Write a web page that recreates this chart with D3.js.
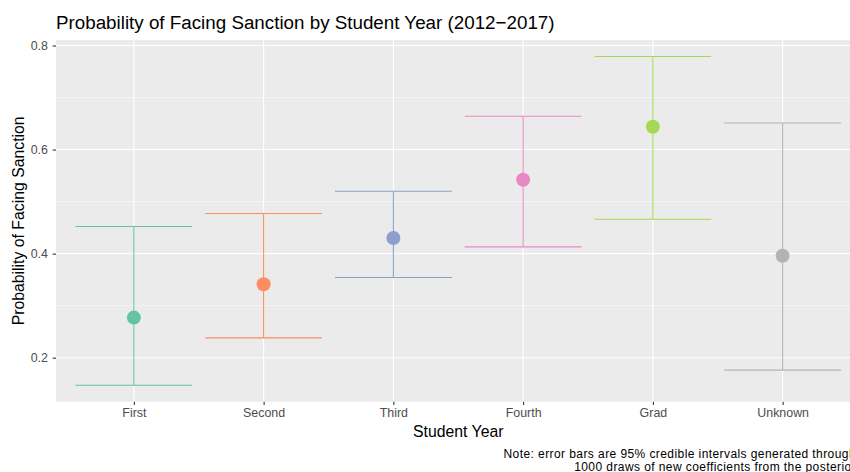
<!DOCTYPE html>
<html>
<head>
<meta charset="utf-8">
<script src="https://cdn.jsdelivr.net/npm/d3@7"></script>
<style>
  html, body { margin: 0; padding: 0; background: #fff; overflow: hidden; }
  svg { display: block; font-family: "Liberation Sans", Arial, sans-serif; }
</style>
</head>
<body>
<svg id="chart" width="850" height="472"></svg>
<script>
// Posterior estimates of sanction probability by student year
const categories = ["First", "Second", "Third", "Fourth", "Grad", "Unknown"];
const estimates  = [0.277, 0.341, 0.430, 0.542, 0.644, 0.396];
const lowerCI    = [0.147, 0.238, 0.354, 0.413, 0.466, 0.176];
const upperCI    = [0.452, 0.477, 0.520, 0.664, 0.779, 0.651];
const colors     = ["#66C2A5", "#FC8D62", "#8DA0CB", "#E78AC3", "#A6D854", "#B3B3B3"];
const yTicks     = [0.2, 0.4, 0.6, 0.8];
const yMinor     = [0.3, 0.5, 0.7];

const titleText   = "Probability of Facing Sanction by Student Year (2012\u22122017)";
const xTitle      = "Student Year";
const yTitle      = "Probability of Facing Sanction";
const captionLines = [
  "Note: error bars are 95% credible intervals generated through",
  "1000 draws of new coefficients from the posterior"
];

const data = categories.map((c, i) => ({
  cat: c, est: estimates[i], lo: lowerCI[i], hi: upperCI[i], color: colors[i]
}));

const svg = d3.select("#chart");
const panel = { left: 56, right: 860.5, top: 40, bottom: 401.7 };

const fontSizes = { title: 18.8, axisTitle: 15.8, tick: 12.4, caption: 12 };

// Continuous y scale with 5% expansion on each side of the data range
const yMin = d3.min(lowerCI), yMax = d3.max(upperCI);
const pad = (yMax - yMin) * 0.05;
const y = d3.scaleLinear().domain([yMin - pad, yMax + pad]).range([panel.bottom, panel.top]);

// Discrete x scale, 0.6 step expansion on each end
const x = d3.scalePoint().domain(categories).range([panel.left, panel.right]).padding(0.6);
const step = x.step();

// Panel background
svg.append("rect")
  .attr("x", panel.left).attr("y", panel.top)
  .attr("width", panel.right - panel.left).attr("height", panel.bottom - panel.top)
  .attr("fill", "#EBEBEB");

// Grid lines
const grid = svg.append("g");
grid.selectAll("line.minor").data(yMinor).join("line")
  .attr("x1", panel.left).attr("x2", panel.right)
  .attr("y1", d => y(d)).attr("y2", d => y(d))
  .attr("stroke", "#fff").attr("stroke-width", 0.55);
grid.selectAll("line.majory").data(yTicks).join("line")
  .attr("x1", panel.left).attr("x2", panel.right)
  .attr("y1", d => y(d)).attr("y2", d => y(d))
  .attr("stroke", "#fff").attr("stroke-width", 1.1);
grid.selectAll("line.majorx").data(categories).join("line")
  .attr("x1", d => x(d)).attr("x2", d => x(d))
  .attr("y1", panel.top).attr("y2", panel.bottom)
  .attr("stroke", "#fff").attr("stroke-width", 1.1);

// Axes
const yAxis = svg.append("g")
  .attr("transform", `translate(${panel.left},0)`)
  .call(d3.axisLeft(y).tickValues(yTicks).tickFormat(d3.format(".1f")).tickSize(3.3).tickPadding(4.8));
const xAxis = svg.append("g")
  .attr("transform", `translate(0,${panel.bottom})`)
  .call(d3.axisBottom(x).tickSize(3.3).tickPadding(3.4));
[yAxis, xAxis].forEach(g => {
  g.select(".domain").remove();
  g.selectAll(".tick line").attr("stroke", "#333").attr("stroke-width", 1.1);
  g.selectAll(".tick text").attr("fill", "#4D4D4D").style("font-size", fontSizes.tick + "px")
    .style("font-family", "'Liberation Sans', Arial, sans-serif");
});

// Error bars
const bars = svg.append("g");
bars.selectAll("line.stem").data(data).join("line")
  .attr("x1", d => x(d.cat)).attr("x2", d => x(d.cat))
  .attr("y1", d => y(d.lo)).attr("y2", d => y(d.hi))
  .attr("stroke", d => d.color).attr("stroke-width", 1.1);
bars.selectAll("line.capHi").data(data).join("line")
  .attr("x1", d => x(d.cat) - step * 0.45).attr("x2", d => x(d.cat) + step * 0.45)
  .attr("y1", d => y(d.hi)).attr("y2", d => y(d.hi))
  .attr("stroke", d => d.color).attr("stroke-width", 1.1);
bars.selectAll("line.capLo").data(data).join("line")
  .attr("x1", d => x(d.cat) - step * 0.45).attr("x2", d => x(d.cat) + step * 0.45)
  .attr("y1", d => y(d.lo)).attr("y2", d => y(d.lo))
  .attr("stroke", d => d.color).attr("stroke-width", 1.1);

// Point estimates
svg.append("g").selectAll("circle").data(data).join("circle")
  .attr("cx", d => x(d.cat)).attr("cy", d => y(d.est))
  .attr("r", 7).attr("fill", d => d.color);

// Titles
svg.append("text").attr("x", 56).attr("y", 29)
  .attr("fill", "#000").style("font-size", fontSizes.title + "px").text(titleText);
svg.append("text").attr("x", (panel.left + panel.right) / 2).attr("y", 437)
  .attr("text-anchor", "middle").attr("fill", "#000").style("font-size", fontSizes.axisTitle + "px").text(xTitle);
svg.append("text")
  .attr("transform", `translate(23.5,${(panel.top + panel.bottom) / 2}) rotate(-90)`)
  .attr("text-anchor", "middle").attr("fill", "#000").style("font-size", fontSizes.axisTitle + "px").text(yTitle);

// Caption, right-aligned under the panel
captionLines.forEach((t, i) => {
  svg.append("text").attr("x", 856).attr("y", 457.5 + i * 13.4)
    .attr("text-anchor", "end")
    .style("letter-spacing", "0.42px")
    .attr("fill", "#000").style("font-size", fontSizes.caption + "px").text(t);
});
</script>
</body>
</html>
